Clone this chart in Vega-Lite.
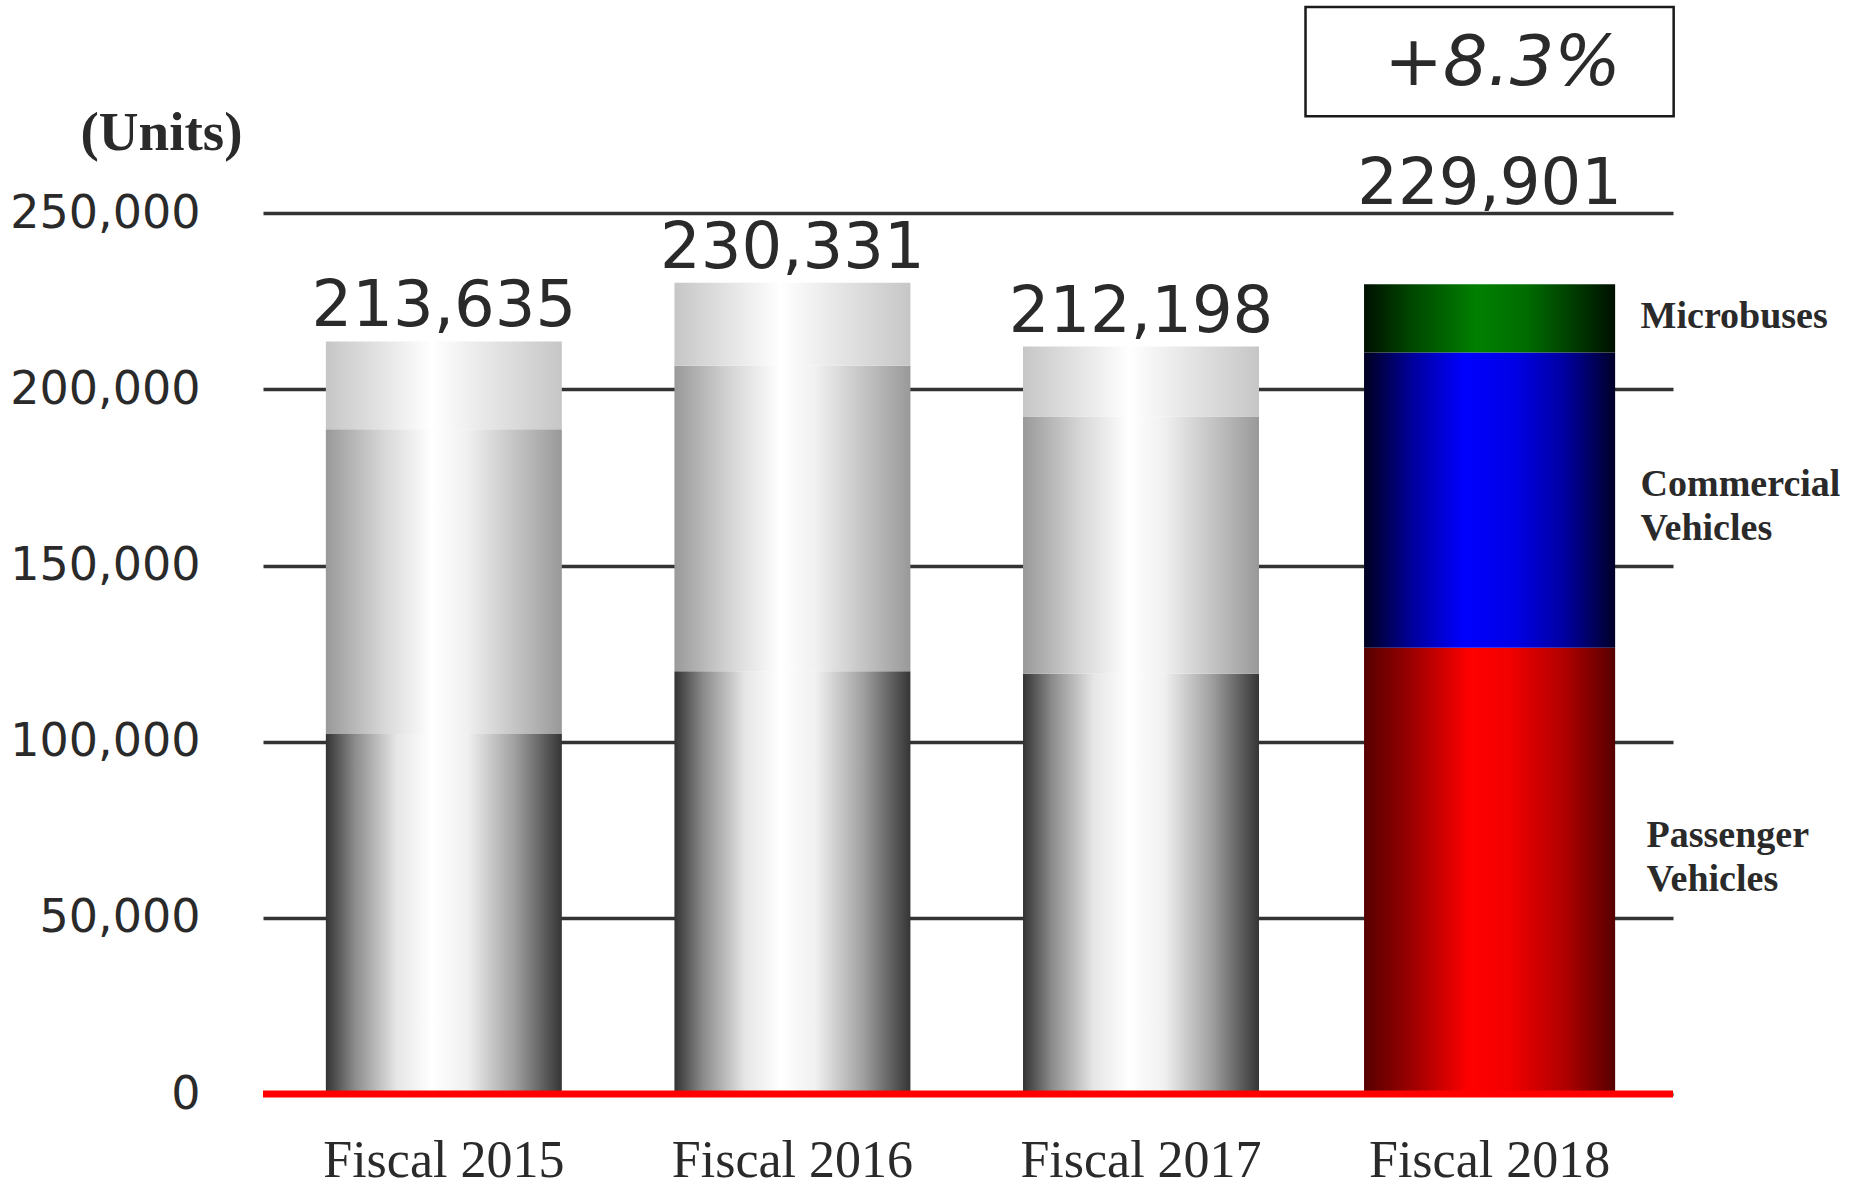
{
  "$schema": "https://vega.github.io/schema/vega-lite/v6.json",
  "width": 1410,
  "height": 1092,
  "autosize": "none",
  "padding": {"left": 263, "top": 2, "right": 177, "bottom": 94},
  "background": "white",
  "config": {
    "view": {"stroke": null},
    "numberFormat": ",",
    "axisY": {"labelFont": "DejaVu Sans", "labelFontSize": 46, "labelColor": "#2a2a2a", "labelLimit": 0, "domain": false, "ticks": false, "grid": true, "gridColor": "#333333", "gridWidth": 3.5, "labelPadding": 63, "titleFont": "Liberation Serif", "titleFontWeight": "bold", "titleFontSize": 55, "titleColor": "#2a2a2a", "titleAngle": 0, "titleX": -102, "titleY": 147, "titleAlign": "center", "titleBaseline": "alphabetic", "labelExpr": "format(datum.value, ',')"},
    "axisX": {"labelFont": "Liberation Serif", "labelFontSize": 52, "labelColor": "#2a2a2a", "domain": false, "ticks": false, "grid": false, "labelPadding": 82, "labelBaseline": "alphabetic", "labelAngle": 0, "labelLimit": 0}
  },
  "data": {"values": [
    {"year": "Fiscal 2015", "segment": "Passenger Vehicles", "units": 102200},
    {"year": "Fiscal 2015", "segment": "Commercial Vehicles", "units": 86500},
    {"year": "Fiscal 2015", "segment": "Microbuses", "units": 24935},
    {"year": "Fiscal 2016", "segment": "Passenger Vehicles", "units": 120000},
    {"year": "Fiscal 2016", "segment": "Commercial Vehicles", "units": 86770},
    {"year": "Fiscal 2016", "segment": "Microbuses", "units": 23561},
    {"year": "Fiscal 2017", "segment": "Passenger Vehicles", "units": 119300},
    {"year": "Fiscal 2017", "segment": "Commercial Vehicles", "units": 73060},
    {"year": "Fiscal 2017", "segment": "Microbuses", "units": 19838},
    {"year": "Fiscal 2018", "segment": "Passenger Vehicles", "units": 126700},
    {"year": "Fiscal 2018", "segment": "Commercial Vehicles", "units": 83800},
    {"year": "Fiscal 2018", "segment": "Microbuses", "units": 19401}
  ]},
  "transform": [
    {"calculate": "indexof(['Passenger Vehicles','Commercial Vehicles','Microbuses'], datum.segment)", "as": "segOrder"},
    {"stack": "units", "groupby": ["year"], "sort": [{"field": "segOrder", "order": "ascending"}], "as": ["y0", "y1"]}
  ],
  "layer": [
    {
      "transform": [{"filter": "datum.year != 'Fiscal 2018' && datum.segment == 'Passenger Vehicles'"}],
      "mark": {"type": "bar", "fill": {"gradient": "linear", "x1": 0, "y1": 0, "x2": 1, "y2": 0, "stops": [
        {"offset": 0, "color": "#333333"}, {"offset": 0.12, "color": "#8a8a8a"}, {"offset": 0.3, "color": "#e6e6e6"}, {"offset": 0.45, "color": "#ffffff"}, {"offset": 0.6, "color": "#f0f0f0"}, {"offset": 0.8, "color": "#a0a0a0"}, {"offset": 1, "color": "#353535"}]}},
      "encoding": {
        "x": {"field": "year", "type": "nominal", "title": null,
          "scale": {"domain": ["Fiscal 2015", "Fiscal 2016", "Fiscal 2017", "Fiscal 2018"], "paddingInner": 0.323, "paddingOuter": 0.184, "align": 0.49}},
        "y": {"field": "y0", "type": "quantitative", "title": "(Units)",
          "scale": {"domain": [0, 310000], "nice": false, "zero": true},
          "axis": {"values": [0, 50000, 100000, 150000, 200000, 250000]}},
        "y2": {"field": "y1"}
      }
    },
    {
      "transform": [{"filter": "datum.year != 'Fiscal 2018' && datum.segment == 'Commercial Vehicles'"}],
      "mark": {"type": "bar", "fill": {"gradient": "linear", "x1": 0, "y1": 0, "x2": 1, "y2": 0, "stops": [
        {"offset": 0, "color": "#999999"}, {"offset": 0.25, "color": "#d8d8d8"}, {"offset": 0.45, "color": "#ffffff"}, {"offset": 0.6, "color": "#f0f0f0"}, {"offset": 1, "color": "#999999"}]}},
      "encoding": {
        "x": {"field": "year", "type": "nominal", "title": null},
        "y": {"field": "y0", "type": "quantitative", "title": "(Units)"},
        "y2": {"field": "y1"}
      }
    },
    {
      "transform": [{"filter": "datum.year != 'Fiscal 2018' && datum.segment == 'Microbuses'"}],
      "mark": {"type": "bar", "fill": {"gradient": "linear", "x1": 0, "y1": 0, "x2": 1, "y2": 0, "stops": [
        {"offset": 0, "color": "#c6c6c6"}, {"offset": 0.45, "color": "#ffffff"}, {"offset": 1, "color": "#c6c6c6"}]}},
      "encoding": {
        "x": {"field": "year", "type": "nominal", "title": null},
        "y": {"field": "y0", "type": "quantitative", "title": "(Units)"},
        "y2": {"field": "y1"}
      }
    },
    {
      "transform": [{"filter": "datum.year == 'Fiscal 2018' && datum.segment == 'Passenger Vehicles'"}],
      "mark": {"type": "bar", "width": {"band": 1.064}, "fill": {"gradient": "linear", "x1": 0, "y1": 0, "x2": 1, "y2": 0, "stops": [
        {"offset": 0, "color": "#560000"}, {"offset": 0.2, "color": "#a00000"}, {"offset": 0.42, "color": "#ff0000"}, {"offset": 0.58, "color": "#f20000"}, {"offset": 0.8, "color": "#b00000"}, {"offset": 1, "color": "#560000"}]}},
      "encoding": {
        "x": {"field": "year", "type": "nominal", "title": null},
        "y": {"field": "y0", "type": "quantitative", "title": "(Units)"},
        "y2": {"field": "y1"}
      }
    },
    {
      "transform": [{"filter": "datum.year == 'Fiscal 2018' && datum.segment == 'Commercial Vehicles'"}],
      "mark": {"type": "bar", "width": {"band": 1.064}, "fill": {"gradient": "linear", "x1": 0, "y1": 0, "x2": 1, "y2": 0, "stops": [
        {"offset": 0, "color": "#000020"}, {"offset": 0.2, "color": "#0000a0"}, {"offset": 0.4, "color": "#0000ff"}, {"offset": 0.6, "color": "#0000e6"}, {"offset": 0.8, "color": "#0000a0"}, {"offset": 1, "color": "#000028"}]}},
      "encoding": {
        "x": {"field": "year", "type": "nominal", "title": null},
        "y": {"field": "y0", "type": "quantitative", "title": "(Units)"},
        "y2": {"field": "y1"}
      }
    },
    {
      "transform": [{"filter": "datum.year == 'Fiscal 2018' && datum.segment == 'Microbuses'"}],
      "mark": {"type": "bar", "width": {"band": 1.064}, "fill": {"gradient": "linear", "x1": 0, "y1": 0, "x2": 1, "y2": 0, "stops": [
        {"offset": 0, "color": "#001000"}, {"offset": 0.2, "color": "#004a00"}, {"offset": 0.45, "color": "#008000"}, {"offset": 0.65, "color": "#006c00"}, {"offset": 1, "color": "#001000"}]}},
      "encoding": {
        "x": {"field": "year", "type": "nominal", "title": null},
        "y": {"field": "y0", "type": "quantitative", "title": "(Units)"},
        "y2": {"field": "y1"}
      }
    },
    {
      "transform": [{"aggregate": [{"op": "count", "as": "n"}]}],
      "mark": {"type": "rule", "color": "#ff0000", "strokeWidth": 7},
      "encoding": {
        "y": {"datum": 0, "type": "quantitative", "title": "(Units)"}
      }
    },
    {
      "transform": [{"aggregate": [{"op": "sum", "field": "units", "as": "total"}], "groupby": ["year"]}, {"filter": "datum.year != 'Fiscal 2018'"}],
      "mark": {"type": "text", "font": "DejaVu Sans", "fontSize": 64, "color": "#2a2a2a", "baseline": "alphabetic", "align": "center", "dy": -15},
      "encoding": {
        "x": {"field": "year", "type": "nominal", "title": null},
        "y": {"field": "total", "type": "quantitative", "title": "(Units)"},
        "text": {"field": "total", "type": "quantitative", "format": ","}
      }
    },
    {
      "transform": [{"aggregate": [{"op": "sum", "field": "units", "as": "total"}], "groupby": ["year"]}, {"filter": "datum.year == 'Fiscal 2018'"}],
      "mark": {"type": "text", "font": "DejaVu Sans", "fontSize": 64, "color": "#2a2a2a", "baseline": "alphabetic", "align": "center", "dy": -80},
      "encoding": {
        "x": {"field": "year", "type": "nominal", "title": null},
        "y": {"field": "total", "type": "quantitative", "title": "(Units)"},
        "text": {"field": "total", "type": "quantitative", "format": ","}
      }
    },
    {
      "transform": [{"filter": "datum.year == 'Fiscal 2018' && datum.segment == 'Microbuses'"}, {"calculate": "(datum.y0 + datum.y1) / 2", "as": "mid"}],
      "mark": {"type": "text", "font": "Liberation Serif", "fontWeight": "bold", "fontSize": 38, "color": "#2a2a2a", "align": "left", "baseline": "middle", "dx": 151, "dy": -1},
      "encoding": {
        "x": {"field": "year", "type": "nominal", "title": null},
        "y": {"field": "mid", "type": "quantitative", "title": "(Units)"},
        "text": {"field": "segment", "type": "nominal"}
      }
    },
    {
      "transform": [{"filter": "datum.year == 'Fiscal 2018' && datum.segment == 'Commercial Vehicles'"}, {"calculate": "(datum.y0 + datum.y1) / 2", "as": "mid"}],
      "mark": {"type": "text", "font": "Liberation Serif", "fontWeight": "bold", "fontSize": 38, "color": "#2a2a2a", "align": "left", "baseline": "middle", "dx": 151, "dy": -15, "lineBreak": " ", "lineHeight": 44},
      "encoding": {
        "x": {"field": "year", "type": "nominal", "title": null},
        "y": {"field": "mid", "type": "quantitative", "title": "(Units)"},
        "text": {"field": "segment", "type": "nominal"}
      }
    },
    {
      "transform": [{"filter": "datum.year == 'Fiscal 2018' && datum.segment == 'Passenger Vehicles'"}, {"calculate": "(datum.y0 + datum.y1) / 2", "as": "mid"}],
      "mark": {"type": "text", "font": "Liberation Serif", "fontWeight": "bold", "fontSize": 38, "color": "#2a2a2a", "align": "left", "baseline": "middle", "dx": 157, "dy": -35, "lineBreak": " ", "lineHeight": 44},
      "encoding": {
        "x": {"field": "year", "type": "nominal", "title": null},
        "y": {"field": "mid", "type": "quantitative", "title": "(Units)"},
        "text": {"field": "segment", "type": "nominal"}
      }
    },
    {
      "transform": [{"aggregate": [{"op": "count", "as": "n"}]}],
      "mark": {"type": "bar", "width": {"band": 1.56}, "fill": "white", "stroke": "#1a1a1a", "strokeWidth": 2.5},
      "encoding": {
        "x": {"datum": "Fiscal 2018", "type": "nominal", "title": null},
        "y": {"datum": 277600, "type": "quantitative", "title": "(Units)"},
        "y2": {"datum": 308600}
      }
    },
    {
      "transform": [{"aggregate": [{"op": "count", "as": "n"}]}],
      "mark": {"type": "text", "text": "+8.3%", "font": "DejaVu Sans", "fontStyle": "italic", "fontSize": 70, "color": "#2a2a2a", "align": "center", "baseline": "middle", "dx": 13},
      "encoding": {
        "x": {"datum": "Fiscal 2018", "type": "nominal", "title": null},
        "y": {"datum": 292300, "type": "quantitative", "title": "(Units)"}
      }
    }
  ]
}
